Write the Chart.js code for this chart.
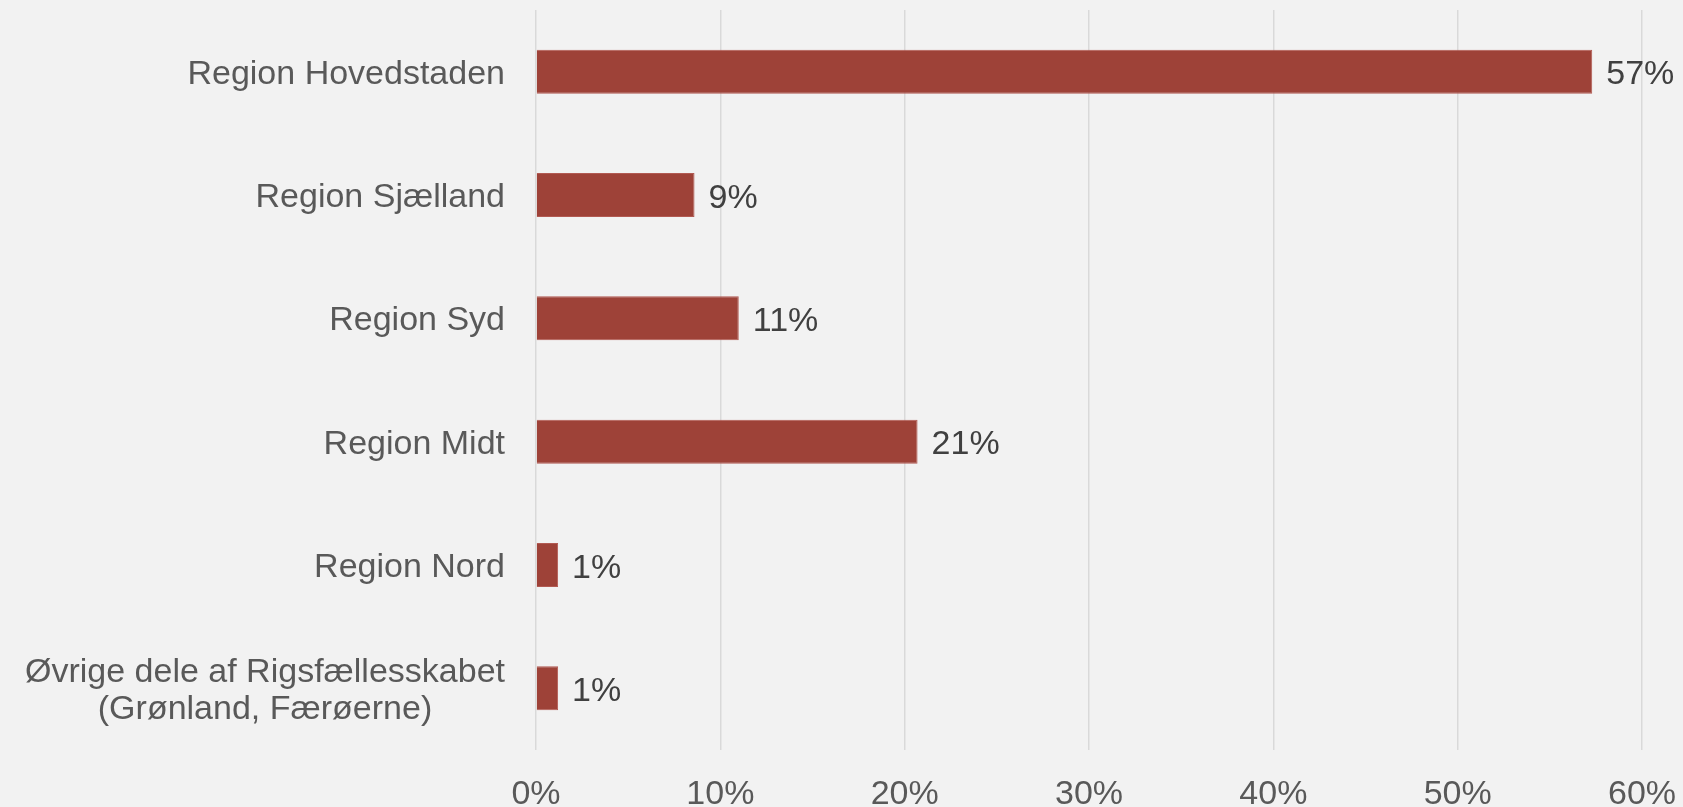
<!DOCTYPE html>
<html>
<head>
<meta charset="utf-8">
<script src="https://cdn.jsdelivr.net/npm/chart.js@4/dist/chart.umd.min.js"></script>
<style>
  html, body { margin: 0; padding: 0; background: #f2f2f2; }
</style>
</head>
<body>
<canvas id="regionChart" width="1683" height="807"></canvas>
<script>
// andel fordelt på region (%)
let regions = [
    'Region Hovedstaden',
    'Region Sjælland',
    'Region Syd',
    'Region Midt',
    'Region Nord',
    ['Øvrige dele af Rigsfællesskabet', '(Grønland, Færøerne)']
];
let shares = [57.3, 8.6, 11.0, 20.7, 1.2, 1.2];
let xTicks = [0, 10, 20, 30, 40, 50, 60];

let fontFamily = '"Liberation Sans", Arial, sans-serif';

// kategorinavne tegnes selv, så to-linjers navne centreres indbyrdes
let categoryLabels = {
    id: 'categoryLabels',
    afterDraw(chart) {
        let ctx = chart.ctx;
        let yScale = chart.scales.y;
        let right = chart.chartArea.left - 31;
        let lineHeight = 37.5;
        ctx.save();
        ctx.font = '34px ' + fontFamily;
        ctx.fillStyle = '#595959';
        ctx.textAlign = 'center';
        ctx.textBaseline = 'alphabetic';
        chart.data.labels.forEach((label, i) => {
            let lines = [].concat(label);
            let widest = Math.max(...lines.map(l => ctx.measureText(l).width));
            let cx = right - widest / 2;
            let y0 = yScale.getPixelForTick(i) + 12 - (lines.length - 1) * lineHeight / 2;
            lines.forEach((line, j) => ctx.fillText(line, cx, y0 + j * lineHeight));
        });
        ctx.restore();
    }
};

// procentsats til højre for hver søjle
let valueLabels = {
    id: 'valueLabels',
    afterDatasetsDraw(chart) {
        let ctx = chart.ctx;
        let meta = chart.getDatasetMeta(0);
        ctx.save();
        ctx.font = '34px ' + fontFamily;
        ctx.fillStyle = '#404040';
        ctx.textAlign = 'left';
        ctx.textBaseline = 'alphabetic';
        meta.data.forEach((bar, i) => {
            let value = chart.data.datasets[0].data[i];
            ctx.fillText(Math.round(value) + '%', bar.x + 14, bar.y + 12.5);
        });
        ctx.restore();
    }
};

let chart = new Chart(document.getElementById('regionChart').getContext('2d'), {
    type: 'bar',
    data: {
        labels: regions,
        datasets: [
            {
                data: shares,
                backgroundColor: '#9e4238',
                borderColor: '#b25a52',
                borderWidth: 1,
                categoryPercentage: 1,
                barPercentage: 0.357
            }
        ]
    },
    options: {
        indexAxis: 'y',
        responsive: false,
        animation: false,
        layout: {
            padding: { top: 10, right: 41, bottom: 0, left: 0 }
        },
        plugins: {
            legend: { display: false },
            tooltip: { enabled: false }
        },
        scales: {
            x: {
                min: xTicks[0],
                max: xTicks[xTicks.length - 1],
                afterFit(scale) {
                    scale.height = 57;
                    // plads til sidste tick-label klares af layout-padding
                    scale.paddingRight = 0;
                    scale.paddingLeft = 0;
                },
                grid: { color: '#d9d9d9', lineWidth: 1.5, drawTicks: false },
                border: { display: false },
                ticks: {
                    stepSize: xTicks[1] - xTicks[0],
                    padding: 24,
                    color: '#595959',
                    font: { family: fontFamily, size: 34 },
                    callback: v => v + '%'
                }
            },
            y: {
                afterFit(scale) { scale.width = 536; },
                grid: { display: false },
                border: { display: false },
                ticks: { display: false }
            }
        }
    },
    plugins: [categoryLabels, valueLabels]
});
</script>
</body>
</html>
